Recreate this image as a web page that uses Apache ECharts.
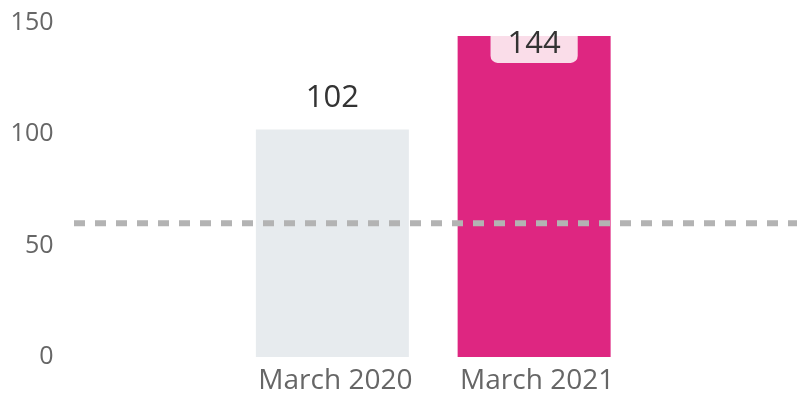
<!DOCTYPE html>
<html>
<head>
<meta charset="utf-8">
<script src="https://cdn.jsdelivr.net/npm/echarts@6/dist/echarts.min.js"></script>
<style>
  html, body { margin: 0; padding: 0; background: #fff; }
  #chart { width: 797px; height: 413px; }
</style>
</head>
<body>
<div id="chart"></div>
<script>
const categories = ['March 2020', 'March 2021']
const values = [102, 144]
const barColors = ['#e7ebee', '#de2681']
const referenceValue = 60
const yTicks = [0, 50, 100, 150]

const chart = echarts.init(document.getElementById('chart'))

const font = '"Open Sans", sans-serif'

const option = {
  animation: false,
  grid: [
    { left: 231.5, right: 162, top: 22.5, bottom: 56 },
    { left: 74, right: 0, top: 22.5, bottom: 56 }
  ],
  xAxis: [
    {
      type: 'category',
      gridIndex: 0,
      data: categories,
      axisLine: { show: false },
      axisTick: { show: false },
      axisLabel: { color: '#666', fontSize: 28, fontFamily: font, margin: 10, padding: [0, 0, 0, 6] }
    },
    { type: 'value', gridIndex: 1, min: 0, max: 1, show: false }
  ],
  yAxis: [
    {
      type: 'value',
      gridIndex: 0,
      min: yTicks[0],
      max: yTicks[yTicks.length - 1],
      interval: 50,
      splitLine: { show: false },
      axisLine: { show: false },
      axisTick: { show: false },
      axisLabel: { color: '#666', fontSize: 25, fontFamily: font, margin: 178 }
    },
    { type: 'value', gridIndex: 1, min: 0, max: 150, show: false }
  ],
  series: [
    {
      type: 'bar',
      xAxisIndex: 0,
      yAxisIndex: 0,
      barWidth: 153,
      data: values.map((v, i) => {
        const item = { value: v, itemStyle: { color: barColors[i] } }
        if (i === 0) {
          item.label = {
            show: true,
            position: 'top',
            distance: 16,
            color: '#333',
            fontSize: 31,
            fontFamily: font
          }
        } else {
          item.label = {
            show: true,
            position: 'insideTop',
            distance: 0,
            color: '#333',
            fontSize: 31,
            lineHeight: 16,
            fontFamily: font,
            backgroundColor: '#fadde9',
            borderRadius: [0, 0, 7, 7],
            padding: [0, 17, 11, 17]
          }
        }
        return item
      })
    },
    {
      type: 'line',
      xAxisIndex: 1,
      yAxisIndex: 1,
      symbol: 'none',
      silent: true,
      lineStyle: { color: '#b3b3b3', width: 6, type: [11, 10] },
      data: [[0, referenceValue], [1, referenceValue]]
    }
  ]
}

chart.setOption(option)
</script>
</body>
</html>
